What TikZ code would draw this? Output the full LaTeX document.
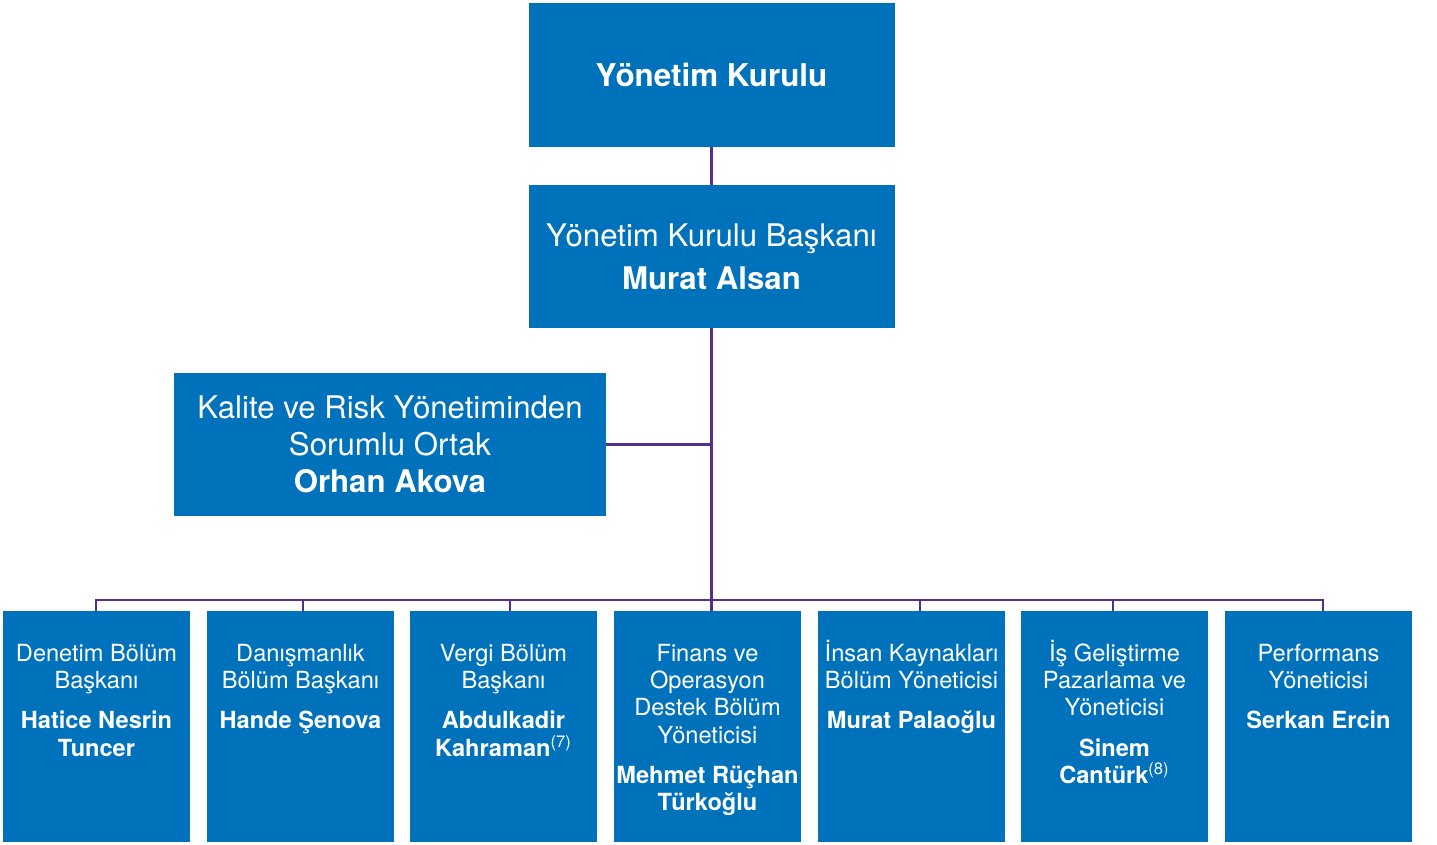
\documentclass[tikz,border=0pt]{standalone}
\usepackage{fontspec}
\setmainfont{TeX Gyre Heros}
\usetikzlibrary{positioning}
\definecolor{kblue}{RGB}{0,114,187}
\definecolor{kline}{RGB}{84,48,140}
\newcommand{\toprow}{\rule{0pt}{12pt}}

\begin{document}
\begin{tikzpicture}[x=0.5pt, y=-0.5pt,
    orgbox/.style={fill=kblue, text=white, inner sep=0pt, align=center},
    unitbox/.style={fill=kblue, inner sep=0pt, minimum width=93.5pt, minimum height=115.5pt, anchor=north},
    unittext/.style={text=white, inner sep=0pt, align=center, anchor=north, font=\fontsize{11.8}{13.6}\selectfont},
    link/.style={draw=kline, line width=1.2pt}]
  \useasboundingbox (0,0) rectangle (1437,845);

  % Верхній рівень
  \node[orgbox, minimum width=183pt, minimum height=72pt, font=\fontsize{15.7}{18}\selectfont\bfseries]
    (kurul) at (711.5,75) {Yönetim Kurulu};
  \node[orgbox, minimum width=183pt, minimum height=71.5pt, font=\fontsize{15.6}{21.5}\selectfont]
    (baskan) at (711.5,256.5) {Yönetim Kurulu Başkanı\\\textbf{Murat Alsan}};
  \node[orgbox, minimum width=216pt, minimum height=71.5pt, font=\fontsize{15.6}{18.5}\selectfont]
    (kalite) at (390,444.5) {Kalite ve Risk Yönetiminden\\Sorumlu Ortak\\\textbf{Orhan Akova}};

  % Нижній рівень: блоки
  \node[unitbox] (b1) at (96.5,611) {};
  \node[unitbox] (b2) at (300.5,611) {};
  \node[unitbox] (b3) at (503.5,611) {};
  \node[unitbox] (b4) at (707.5,611) {};
  \node[unitbox] (b5) at (911.5,611) {};
  \node[unitbox] (b6) at (1114.5,611) {};
  \node[unitbox] (b7) at (1318.5,611) {};

  % Нижній рівень: підписи
  \node[unittext] (t1) at (96.5,637) {\toprow Denetim Bölüm\\Başkanı\\[6.5pt]\textbf{Hatice Nesrin}\\\textbf{Tuncer}};
  \node[unittext] (t2) at (300.5,637) {\toprow Danışmanlık\\Bölüm Başkanı\\[6.5pt]\textbf{Hande Şenova}};
  \node[unittext] (t3) at (503.5,637) {\toprow Vergi Bölüm\\Başkanı\\[6.5pt]\textbf{Abdulkadir}\\\textbf{Kahraman}\textsuperscript{(7)}};
  \node[unittext] (t4) at (707.5,637) {\toprow Finans ve\\Operasyon\\Destek Bölüm\\Yöneticisi\\[6.5pt]\textbf{Mehmet Rüçhan}\\\textbf{Türkoğlu}};
  \node[unittext] (t5) at (911.5,637) {\toprow İnsan Kaynakları\\Bölüm Yöneticisi\\[6.5pt]\textbf{Murat Palaoğlu}};
  \node[unittext] (t6) at (1114.5,637) {\toprow İş Geliştirme\\Pazarlama ve\\Yöneticisi\\[6.5pt]\textbf{Sinem}\\\textbf{Cantürk}\textsuperscript{(8)}};
  \node[unittext] (t7) at (1318.5,637) {\toprow Performans\\Yöneticisi\\[6.5pt]\textbf{Serkan Ercin}};

  % Точки на шині
  \coordinate (bus) at (711.5,600);
  \coordinate (c1) at (96,600);
  \coordinate (c2) at (303,600);
  \coordinate (c3) at (510,600);
  \coordinate (c4) at (711.5,600);
  \coordinate (c5) at (920,600);
  \coordinate (c6) at (1113,600);
  \coordinate (c7) at (1323,600);

  % Лінії зв'язку
  \draw[link] (kurul) -- (baskan);
  \draw[link] (baskan.south) -- (bus);
  \draw[link] (kalite.east) -- (kalite.east -| bus);
  \draw[link] (c1 |- b1.north) -- (c1) -- (c7) -- (c7 |- b7.north);
  \foreach \i in {2,...,6}
    \draw[link] (c\i) -- (c\i |- b\i.north);
\end{tikzpicture}
\end{document}
